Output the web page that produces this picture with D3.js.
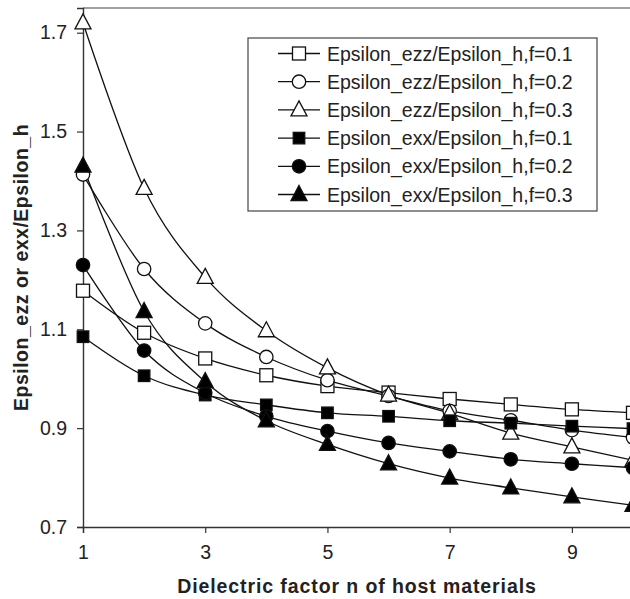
<!DOCTYPE html>
<html>
<head>
<meta charset="utf-8">
<script src="https://cdn.jsdelivr.net/npm/d3@7"></script>
<style>
  body { margin: 0; background: #fff; }
  text { font-family: "Liberation Sans", Arial, sans-serif; fill: #222; }
</style>
</head>
<body>
<div id="chart"></div>
<script>
// values
let nValues = [1, 2, 3, 4, 5, 6, 7, 8, 9, 10];
let ezz01 = [1.178, 1.093, 1.041, 1.007, 0.985, 0.972, 0.959, 0.948, 0.938, 0.931];
let ezz02 = [1.413, 1.222, 1.112, 1.044, 0.997, 0.965, 0.935, 0.916, 0.896, 0.881];
let ezz03 = [1.720, 1.385, 1.205, 1.097, 1.022, 0.967, 0.930, 0.890, 0.862, 0.835];
let exx01 = [1.085, 1.006, 0.967, 0.947, 0.931, 0.924, 0.915, 0.910, 0.904, 0.899];
let exx02 = [1.230, 1.057, 0.971, 0.924, 0.894, 0.870, 0.853, 0.837, 0.828, 0.820];
let exx03 = [1.430, 1.136, 0.994, 0.915, 0.867, 0.828, 0.799, 0.779, 0.761, 0.744];
let seriesNames = [
  "Epsilon_ezz/Epsilon_h,f=0.1", "Epsilon_ezz/Epsilon_h,f=0.2", "Epsilon_ezz/Epsilon_h,f=0.3",
  "Epsilon_exx/Epsilon_h,f=0.1", "Epsilon_exx/Epsilon_h,f=0.2", "Epsilon_exx/Epsilon_h,f=0.3"
];
let markerShapes = ["square", "circle", "triangle", "square", "circle", "triangle"];
let markerFilled = [false, false, false, true, true, true];
let xTicks = [1, 3, 5, 7, 9];
let yTicks = [0.7, 0.9, 1.1, 1.3, 1.5, 1.7];

let allSeries = [ezz01, ezz02, ezz03, exx01, exx02, exx03];

let W = 630, H = 599;
let padL = 83, padT = 8, padR = 633, padB = 527;

let svg = d3.select("#chart").append("svg")
  .attr("width", W).attr("height", H);

let x = d3.scaleLinear().domain([1, 10]).range([padL, padR]);
let y = d3.scaleLinear().domain([0.7, 1.75]).range([padB, padT]);

// frame top line
svg.append("line")
  .attr("x1", padL).attr("x2", padR).attr("y1", padT).attr("y2", padT)
  .attr("stroke", "#444").attr("stroke-width", 1.2);

// axes
let xAxis = svg.append("g")
  .attr("transform", "translate(0," + padB + ")")
  .call(d3.axisBottom(x).tickValues(xTicks).tickFormat(d3.format("d")).tickSizeOuter(0).tickSize(6).tickPadding(12));
let yAxis = svg.append("g")
  .attr("transform", "translate(" + padL + ",0)")
  .call(d3.axisLeft(y).tickValues(yTicks).tickFormat(d3.format(".1f")).tickSizeOuter(0).tickSize(6).tickPadding(10));

[xAxis, yAxis].forEach(function(a) {
  a.select(".domain").attr("stroke", "#333").attr("stroke-width", 1.4);
  a.selectAll(".tick line").attr("stroke", "#333").attr("stroke-width", 1.2);
  a.selectAll(".tick text")
    .attr("fill", "#222")
    .style("font-family", '"Liberation Sans", Arial, sans-serif')
    .style("font-size", "19.5px");
});

// axis titles
svg.append("text")
  .attr("x", (padL + padR) / 2 - 1).attr("y", 593)
  .attr("text-anchor", "middle")
  .style("font-size", "19.5px").style("font-weight", "bold").style("letter-spacing", "0.9px")
  .text("Dielectric factor n of host materials");

svg.append("text")
  .attr("transform", "translate(28," + ((padT + padB) / 2) + ") rotate(-90)")
  .attr("text-anchor", "middle")
  .style("font-size", "19.5px").style("font-weight", "bold").style("letter-spacing", "0.5px")
  .text("Epsilon_ezz or exx/Epsilon_h");

// marker drawing helper
function drawMarker(sel, shape, filled) {
  let fill = filled ? "#000" : "#fff";
  let m;
  if (shape == "square") {
    let s = filled ? 11.5 : 13;
    m = sel.append("rect").attr("x", -s / 2).attr("y", -s / 2).attr("width", s).attr("height", s);
  } else if (shape == "circle") {
    m = sel.append("circle").attr("r", 6.7);
  } else {
    m = sel.append("path").attr("d", "M0,-9 L8,6 L-8,6 Z");
  }
  m.attr("fill", fill).attr("stroke", "#111").attr("stroke-width", 1.3);
}

let line = d3.line()
  .x(function(d, i) { return x(nValues[i]); })
  .y(function(d) { return y(d); })
  .curve(d3.curveCardinal.tension(0));

let plot = svg.append("g");

allSeries.forEach(function(vals, k) {
  plot.append("path")
    .attr("d", line(vals))
    .attr("fill", "none")
    .attr("stroke", "#111")
    .attr("stroke-width", 1.3);
});

allSeries.forEach(function(vals, k) {
  plot.selectAll(null)
    .data(vals)
    .enter().append("g")
      .attr("transform", function(d, i) { return "translate(" + x(nValues[i]) + "," + y(d) + ")"; })
      .each(function() { drawMarker(d3.select(this), markerShapes[k], markerFilled[k]); });
});

// legend
let legX = 248, legY = 38, legW = 349, legH = 173, rowH = 28.2;
let legend = svg.append("g");
legend.append("rect")
  .attr("x", legX).attr("y", legY).attr("width", legW).attr("height", legH)
  .attr("fill", "#fff").attr("stroke", "#444").attr("stroke-width", 1.2);

let rows = legend.selectAll("g.row")
  .data(seriesNames)
  .enter().append("g")
    .attr("class", "row")
    .attr("transform", function(d, i) { return "translate(0," + (legY + 15.5 + i * rowH) + ")"; });

rows.append("line")
  .attr("x1", 278).attr("x2", 320).attr("y1", 0).attr("y2", 0)
  .attr("stroke", "#111").attr("stroke-width", 1.3);

rows.append("g")
  .attr("transform", "translate(299,0)")
  .each(function(d, i) { drawMarker(d3.select(this), markerShapes[i], markerFilled[i]); });

rows.append("text")
  .attr("x", 327).attr("y", 7)
  .style("font-size", "19.5px")
  .text(function(d) { return d; });
</script>
</body>
</html>
